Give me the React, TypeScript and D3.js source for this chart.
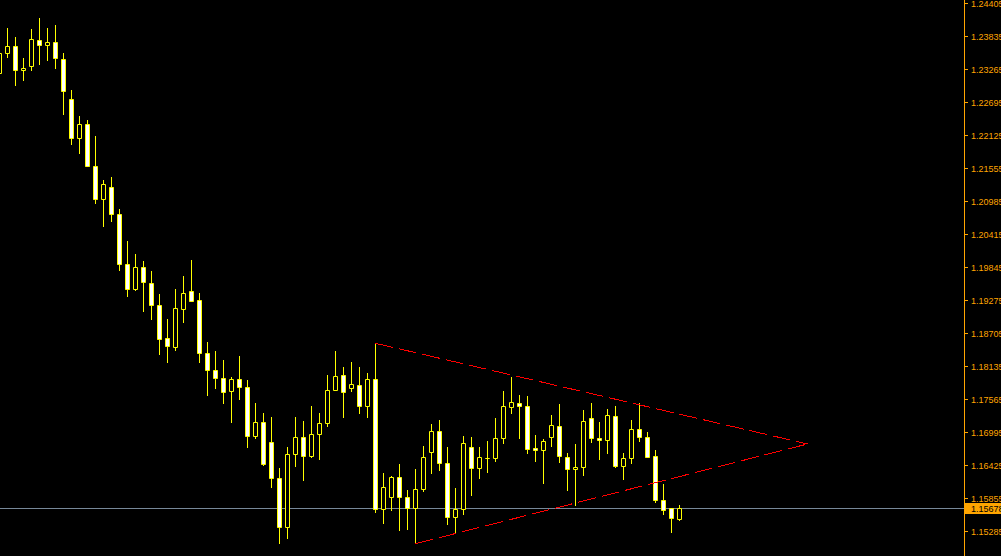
import React from "react";
import * as d3 from "d3";

const width = 1001;
const height = 556;

// first candle is the one cut by the left edge
const firstIndex = -1;
const opens = [
  1.23196, 1.23541, 1.23662, 1.23241, 1.2331, 1.23766, 1.2368, 1.23731, 1.23438, 1.22735,
  1.22066, 1.22315, 1.2159, 1.2102, 1.21227, 1.20761, 1.19897, 1.19465, 1.1985, 1.19557,
  1.19189, 1.18607, 1.18456, 1.19113, 1.19431, 1.19263, 1.1836, 1.18066, 1.17928, 1.17696,
  1.1791, 1.17772, 1.16919, 1.17168, 1.16822, 1.162, 1.15347, 1.16608, 1.16909, 1.16574,
  1.16954, 1.1715, 1.17714, 1.1798, 1.17748, 1.17807, 1.17437, 1.1791, 1.15665, 1.15872,
  1.16218, 1.15872, 1.15682, 1.16004, 1.1665, 1.17012, 1.1646, 1.15527, 1.15665, 1.16736,
  1.16373, 1.16539, 1.16539, 1.16891, 1.17427, 1.17496, 1.17444, 1.16712, 1.16684, 1.16909,
  1.17099, 1.16563, 1.16349, 1.16384, 1.17237, 1.16891, 1.1685, 1.17271, 1.16401, 1.16539,
  1.17047, 1.16909, 1.1658, 1.1582, 1.15675, 1.15485,
];
const highs = [
  1.23633, 1.23978, 1.23806, 1.2346, 1.23961, 1.24151, 1.23978, 1.24013, 1.23541, 1.22907,
  1.22458, 1.22389, 1.22096, 1.21336, 1.21388, 1.20835, 1.20299, 1.2007, 1.19937, 1.19764,
  1.19367, 1.18952, 1.19453, 1.19678, 1.19971, 1.19384, 1.1855, 1.18382, 1.18227, 1.1795,
  1.18296, 1.17898, 1.17484, 1.17323, 1.17254, 1.16378, 1.16741, 1.17242, 1.1719, 1.17449,
  1.17328, 1.17968, 1.18399, 1.18106, 1.18209, 1.18106, 1.18019, 1.18532, 1.16275, 1.1624,
  1.16442, 1.15993, 1.16344, 1.16753, 1.17138, 1.17207, 1.16724, 1.16016, 1.16919, 1.16897,
  1.16741, 1.16828, 1.17225, 1.17708, 1.17933, 1.17639, 1.17605, 1.16943, 1.16874, 1.17277,
  1.17467, 1.16632, 1.16776, 1.1738, 1.17501, 1.17156, 1.17397, 1.17449, 1.16632, 1.17207,
  1.17501, 1.16995, 1.16672, 1.1609, 1.15675, 1.15727,
];
const lows = [
  1.23149, 1.23477, 1.22982, 1.23068, 1.23241, 1.23344, 1.23414, 1.23275, 1.22481, 1.21963,
  1.21814, 1.21578, 1.20944, 1.20546, 1.20633, 1.19786, 1.19337, 1.19441, 1.19073, 1.18935,
  1.18347, 1.18192, 1.18405, 1.18888, 1.19251, 1.18192, 1.17627, 1.17743, 1.17489, 1.17161,
  1.17558, 1.16729, 1.16884, 1.1643, 1.16038, 1.15071, 1.15157, 1.16401, 1.16159, 1.16568,
  1.16522, 1.17092, 1.17714, 1.17247, 1.17696, 1.17316, 1.17247, 1.15606, 1.15416, 1.15641,
  1.15295, 1.15313, 1.15071, 1.15969, 1.1628, 1.16332, 1.15399, 1.15251, 1.15572, 1.159,
  1.16194, 1.16297, 1.16487, 1.16798, 1.17316, 1.16884, 1.16625, 1.16494, 1.16107, 1.16746,
  1.16473, 1.15986, 1.15727, 1.16245, 1.16815, 1.16522, 1.16625, 1.16384, 1.16176, 1.16453,
  1.16833, 1.16556, 1.15779, 1.15572, 1.15261, 1.15468,
];
const closes = [
  1.23541, 1.23662, 1.23241, 1.23282, 1.23783, 1.2368, 1.23731, 1.23448, 1.22878, 1.22066,
  1.22315, 1.21583, 1.21013, 1.21279, 1.20761, 1.19893, 1.19465, 1.19845, 1.19582, 1.19182,
  1.18598, 1.18474, 1.19125, 1.19401, 1.19251, 1.18356, 1.18059, 1.17921, 1.17679, 1.1791,
  1.17769, 1.16919, 1.17168, 1.16435, 1.16194, 1.15347, 1.16615, 1.16909, 1.16574, 1.16961,
  1.1715, 1.1772, 1.17962, 1.17679, 1.17824, 1.17437, 1.1791, 1.15662, 1.16045, 1.16218,
  1.15872, 1.15682, 1.16011, 1.16563, 1.17012, 1.1646, 1.15527, 1.15665, 1.16805, 1.16373,
  1.16563, 1.16551, 1.16891, 1.17444, 1.17513, 1.17444, 1.16701, 1.16684, 1.1684, 1.17116,
  1.16574, 1.16349, 1.1639, 1.17185, 1.16884, 1.1685, 1.17289, 1.16401, 1.16546, 1.17047,
  1.16909, 1.16556, 1.15814, 1.15641, 1.15503, 1.15678,
];

const priceTicks = [
  1.24405, 1.23835, 1.23265, 1.22695, 1.22125, 1.21555, 1.20985, 1.20415, 1.19845,
  1.19275, 1.18705, 1.18135, 1.17565, 1.16995, 1.16425, 1.15855, 1.15285,
];
const bid = 1.15678;

// triangle drawn on the chart: [bar index, price]
const upperLine: [number, number][] = [[46, 1.18532], [100, 1.16793]];
const lowerLine: [number, number][] = [[51, 1.15071], [100, 1.16793]];

const axisColor = "#FFA500";
const barColor = "#FFFF00";
const bidColor = "#778899";

const x = d3.scaleLinear().domain([0, 84]).range([7, 679]);
const y = d3.scaleLinear().domain([1.24405, 1.15285]).range([3.3, 531.3]);
const row = (p: number) => Math.floor(y(p));

const candles = opens.map((o, i) => ({
  i: i + firstIndex,
  o,
  h: highs[i],
  l: lows[i],
  c: closes[i],
}));

const trend = d3
  .line<[number, number]>()
  .x((d) => x(d[0]) + 0.5)
  .y((d) => y(d[1]));

const axisX = 964;

export default function App() {
  return (
    <svg
      width={width}
      height={height}
      style={{ position: "absolute", left: 0, top: 0, display: "block", background: "#000" }}
    >
      <rect width={width} height={height} fill="#000" />
      <line
        x1={0}
        x2={axisX}
        y1={row(bid) + 0.5}
        y2={row(bid) + 0.5}
        stroke={bidColor}
        strokeWidth={1}
      />
      <g>
        {candles.map((d) => {
          const cx = x(d.i);
          const hi = row(d.h);
          const lo = row(d.l);
          const t = row(Math.max(d.o, d.c));
          const b = row(Math.min(d.o, d.c));
          const bull = d.c >= d.o;
          const x0 = cx - 2 + 0.5;
          const x1 = cx + 2 + 0.5;
          return (
            <g key={d.i}>
              <rect x={cx} y={hi} width={1} height={lo - hi + 1} fill={barColor} />
              <path
                d={`M${x0},${t + 0.5}H${x1}V${b + 0.5}H${x0}Z`}
                fill={bull ? "#000" : "#FFFFFF"}
                stroke={barColor}
                strokeWidth={1}
              />
            </g>
          );
        })}
      </g>
      {[upperLine, lowerLine].map((ln, j) => (
        <path
          key={j}
          d={trend(ln) || ""}
          fill="none"
          stroke="#FF0000"
          strokeWidth={1}
          strokeDasharray="18,6"
          shapeRendering="crispEdges"
        />
      ))}
      <line x1={axisX + 0.5} x2={axisX + 0.5} y1={0} y2={height} stroke={axisColor} />
      <g fontFamily="'Liberation Sans', Arial, sans-serif" fontSize={9} fill={axisColor}>
        {priceTicks.map((p) => (
          <g key={p}>
            <line
              x1={axisX + 1}
              x2={axisX + 4}
              y1={row(p) + 0.5}
              y2={row(p) + 0.5}
              stroke={axisColor}
            />
            <text x={971} y={row(p) + 0.5} dy="0.35em">
              {p.toFixed(5)}
            </text>
          </g>
        ))}
      </g>
      <rect x={axisX + 1} y={row(bid) - 5} width={width - axisX - 1} height={11} fill={axisColor} />
      <text
        x={971}
        y={row(bid) + 0.5}
        dy="0.35em"
        fontFamily="'Liberation Sans', Arial, sans-serif"
        fontSize={9}
        fill="#000"
      >
        {bid.toFixed(5)}
      </text>
    </svg>
  );
}
